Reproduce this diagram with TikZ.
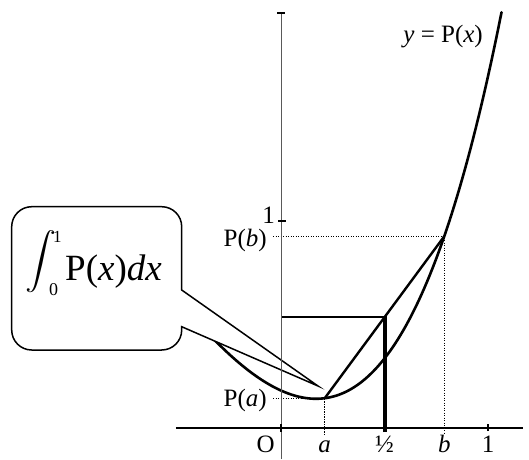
\documentclass[tikz,border=0pt]{standalone}
\usepackage{graphicx}
\usepackage{fontspec}
\setmainfont{Liberation Serif}
\begin{document}
\begin{tikzpicture}[x=207pt,y=207pt,
  declare function={P(\t)=0.181+\t*(-0.4501+\t*(1.156+\t*(0.6443+0.1677*\t)));},
  curve/.style={line width=2.6pt,line join=round,line cap=round},
  chord/.style={line width=2.4pt,line cap=round},
  rectop/.style={line width=2pt},
  rectside/.style={line width=4pt},
  dots/.style={line width=1.3pt,dash pattern=on 1.2pt off 1.3pt},
  xaxis/.style={line width=1.2pt},
  yaxis/.style={line width=1pt,black!65},
  tick/.style={line width=1.2pt},
  callout/.style={draw,fill=white,line width=1.5pt,line join=miter},
  lab/.style={font=\fontsize{25}{29}\selectfont,inner sep=0pt},
  biglab/.style={font=\fontsize{37}{42}\selectfont,inner sep=0pt}]
\useasboundingbox (-281pt,-31pt) rectangle (248pt,428pt);
\pgfmathsetmacro\Pa{P(0.2113)}
\pgfmathsetmacro\Pb{P(0.7887)}
\pgfmathsetmacro\Hh{(\Pa+\Pb)/2}
\coordinate (O) at (0,0);
\coordinate (A) at (0.2113,\Pa);
\coordinate (B) at (0.7887,\Pb);
\coordinate (Ax) at (0.2113,0);
\coordinate (Bx) at (0.7887,0);
\coordinate (Ay) at (0,\Pa);
\coordinate (By) at (0,\Pb);
\coordinate (H) at (0.5,\Hh);
\coordinate (Hy) at (0,\Hh);
\coordinate (Hx) at (0.5,0);
% dotted guide lines
\draw[dots] ([xshift=-8pt]Ay) -- (A) -- ([yshift=-6pt]Ax);
\draw[dots] ([xshift=-8pt]By) -- (B) -- ([yshift=-6pt]Bx);
% rectangle of height (P(a)+P(b))/2
\draw[rectop] (Hy) -- (H);
\draw[rectside] ([yshift=-4pt]Hx) -- ([yshift=1pt]H);
% chord
\draw[chord] (A) -- (B);
% curve
\draw[curve] plot[domain=-0.42:1.066,samples=120] (\x,{P(\x)});
% callout
\coordinate (cTR) at (-99.3pt,221.3pt);
\coordinate (cTL) at (-269.3pt,221.3pt);
\coordinate (cBL) at (-269.3pt,78pt);
\coordinate (cBR) at (-99.3pt,78pt);
\coordinate (cB1) at (-99.3pt,138pt);
\coordinate (cB2) at (-99.3pt,101.3pt);
\coordinate (tip) at (37pt,42pt);
\draw[callout] (cB1) [rounded corners=20pt] -- (cTR) -- (cTL) -- (cBL) -- (cBR) [sharp corners] -- (cB2) -- (tip) -- cycle;
\node[biglab,anchor=base west] (integral) at (-256pt,148pt)
  {\raisebox{11pt}{\scalebox{3.1}[2.8]{\normalsize$\displaystyle\int$}}%
   \rlap{\raisebox{38pt}{\hspace{-3pt}\fontsize{17}{17}\selectfont 1}}%
   \raisebox{-15pt}{\hspace{-7pt}\fontsize{18}{18}\selectfont 0}%
   \hspace{7pt}P(\textit{x})\textit{dx}};
% axes
\coordinate (xl) at (-105pt,0);
\coordinate (xr) at (242pt,0);
\coordinate (yb) at (0,-31pt);
\coordinate (yt) at (0,415pt);
\draw[xaxis] (xl) -- (xr);
\draw[yaxis] (yb) -- (yt);
\draw[tick] ([xshift=-4pt]yt) -- ([xshift=4pt]yt);
\draw[tick] (-3pt,207pt) -- (5pt,207pt);
\draw[tick] (207pt,-3pt) -- (207pt,4pt);
\draw[tick] (0,-4pt) -- (0,4pt);
% labels
\node[lab,anchor=base east] (ylab1) at (-6pt,205pt) {1};
\node[lab,anchor=base east] (pb) at (-14pt,181.5pt) {P(\textit{b})};
\node[lab,anchor=base east] (pa) at (-14pt,21.3pt) {P(\textit{a})};
\node[lab,anchor=base east] (ol) at (-6pt,-24pt) {O};
\node[lab,anchor=base] (la) at (43.7pt,-24pt) {\textit{a}};
\node[lab,anchor=base] (lh) at (103.5pt,-24pt) {½};
\node[lab,anchor=base] (lb) at (163.3pt,-24pt) {\textit{b}};
\node[lab,anchor=base] (l1) at (207pt,-24pt) {1};
\node[lab,anchor=base east] (ylab) at (202pt,385pt) {\textit{y} = P(\textit{x})};
\end{tikzpicture}
\end{document}
